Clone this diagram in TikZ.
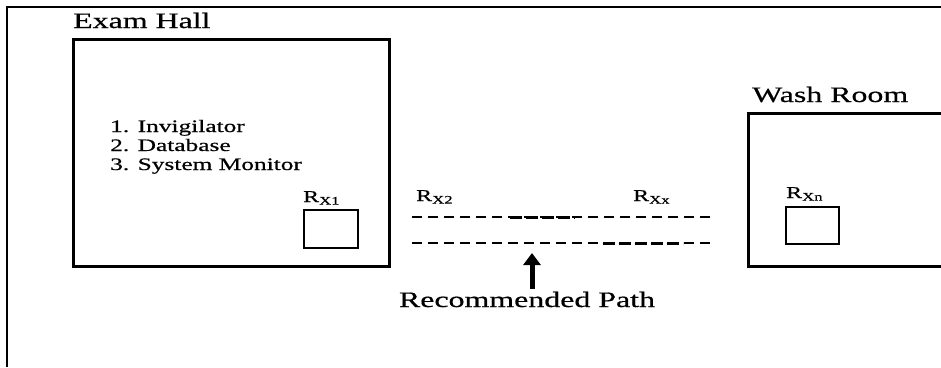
\documentclass[tikz,border=0pt]{standalone}
\usepackage{fontspec}
\setmainfont{Liberation Serif}[FakeStretch=1.45, FakeBold=0.6]
\usetikzlibrary{arrows.meta}

\tikzset{
    room/.style={line width=3pt},
    rxbox/.style={line width=2.8pt},
    title/.style={font=\fontsize{22}{26}\selectfont, anchor=base west, inner sep=0pt},
    item/.style={font=\fontsize{17.5}{19}\selectfont, anchor=base west, inner sep=0pt},
    rxlabel/.style={font=\fontsize{16.5}{18}\selectfont, anchor=base west, inner sep=0pt},
    lane/.style={line width=1.8pt, dash pattern=on 10pt off 6pt},
    lanebold/.style={line width=3pt, dash pattern=on 12pt off 4pt}
}

\begin{document}
\begin{tikzpicture}[x=1pt, y=-1pt]
                \useasboundingbox (0,0) rectangle (941,367);
                \draw[line width=2.2pt] (7,367) -- (7,7) -- (941,7);

                % exam hall
                \node[title] (examlabel) at (73,28) {Exam Hall};
                \draw[room] (73,39) rectangle (389,266);
                \node[item] (item1) at (110,132) {1. Invigilator};
                \node[item] (item2) at (110,151) {2. Database};
                \node[item] (item3) at (110,170) {3. System Monitor};
                \node[rxlabel] (rx1) at (303,202) {R\textsubscript{X1}};
                \draw[rxbox] (304,210) rectangle (358,248);

                % path between the rooms
                \node[rxlabel] (rx2) at (416,201) {R\textsubscript{X2}};
                \node[rxlabel] (rxx) at (633,201) {R\textsubscript{Xx}};
                \draw[lane] (412,217) -- (715,217);
                \draw[lanebold] (510,217) -- (575,217);
                \draw[lane] (412,243) -- (715,243);
                \draw[lanebold] (603,243) -- (683,243);

                \coordinate (arrowfoot) at (532,289);
                \coordinate (arrowtip) at (532,253);
                \draw[line width=5pt, -{Triangle[width=17pt,length=12pt]}] (arrowfoot) -- (arrowtip);
                \node[title, anchor=base] (pathlabel) at (527,307) {Recommended Path};

                % wash room
                \node[title] (washlabel) at (752,102) {Wash Room};
                \draw[room] (941,113) -- (748,113) -- (748,266) -- (941,266);
                \node[rxlabel] (rxn) at (786,198) {R\textsubscript{Xn}};
                \draw[rxbox] (786,207) rectangle (839,244);
\end{tikzpicture}
\end{document}
